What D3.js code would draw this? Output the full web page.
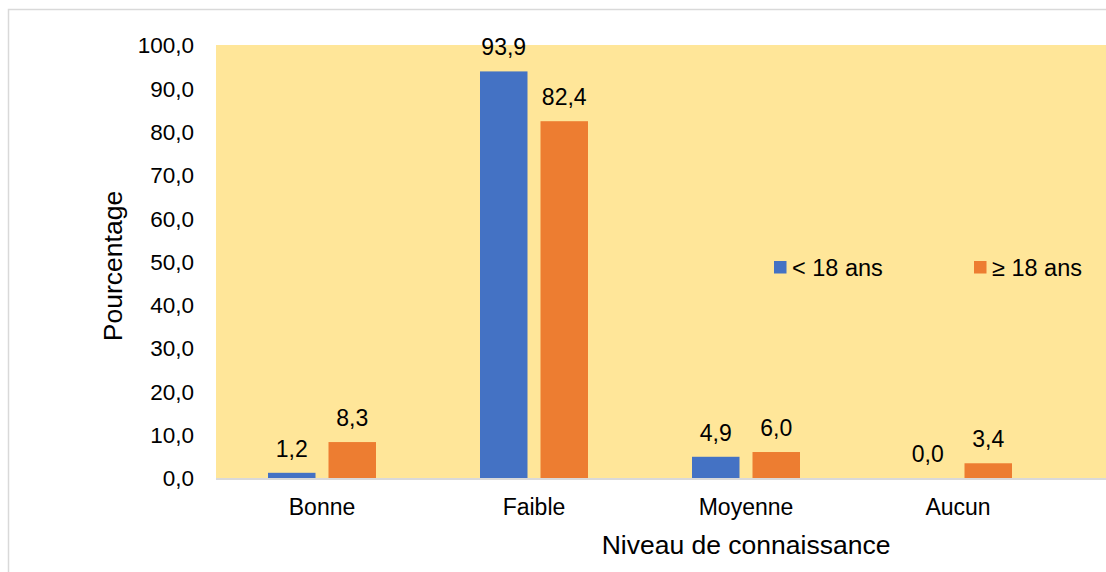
<!DOCTYPE html>
<html>
<head>
<meta charset="utf-8">
<script src="https://cdn.jsdelivr.net/npm/d3@7"></script>
<style>
  html, body { margin: 0; padding: 0; background: #ffffff; }
  svg { display: block; }
  text { font-family: "Liberation Sans", Arial, sans-serif; fill: #000; }
</style>
</head>
<body>
<svg id="chart" width="1106" height="572"></svg>
<script>
// Knowledge level by age group (percent)
const categories = ["Bonne", "Faible", "Moyenne", "Aucun"];
const seriesNames = ["< 18 ans", "≥ 18 ans"];
const under18 = [1.2, 93.9, 4.9, 0.0];
const over18 = [8.3, 82.4, 6.0, 3.4];
const yTicks = [0, 10, 20, 30, 40, 50, 60, 70, 80, 90, 100];
const colors = ["#4472C4", "#ED7D31"];

const svg = d3.select("#chart");
const W = 1106, H = 572;

const plot = { left: 216, right: 1064, top: 45, bottom: 478 };

const fr = d3.formatLocale({ decimal: ",", thousands: " ", grouping: [3], currency: ["", " €"] });
const fmt = fr.format(".1f");

const x0 = d3.scaleBand().domain(categories).range([plot.left, plot.right]).padding(0);
const groupW = 108;
const x1 = d3.scaleBand().domain(seriesNames)
  .range([(x0.bandwidth() - groupW) / 2, (x0.bandwidth() + groupW) / 2])
  .paddingInner(0.215).paddingOuter(0);
const y = d3.scaleLinear().domain([0, 100]).range([plot.bottom, plot.top]);

// outer frame
svg.append("rect")
  .attr("x", 8.5).attr("y", 9.5)
  .attr("width", W + 20).attr("height", H + 20)
  .attr("fill", "none").attr("stroke", "#d9d9d9").attr("stroke-width", 1.5);

// plot background
svg.append("rect")
  .attr("x", plot.left).attr("y", y(100))
  .attr("width", W - plot.left + 10).attr("height", y(0) - y(100))
  .attr("fill", "#FFE699");

// y axis labels
const yAxis = d3.axisLeft(y).tickValues(yTicks).tickFormat(fmt).tickSize(0).tickPadding(0);
const gy = svg.append("g").attr("transform", `translate(194,0)`).call(yAxis);
gy.select(".domain").remove();
gy.selectAll("text")
  .style("font-family", "'Liberation Sans', Arial, sans-serif")
  .style("font-size", "22.5px").attr("fill", "#000").attr("dy", "0.35em");

// bars
const rows = categories.map((c, i) => ({ cat: c, vals: [under18[i], over18[i]] }));
const groups = svg.append("g").selectAll("g").data(rows).join("g")
  .attr("transform", d => `translate(${x0(d.cat)},0)`);

groups.selectAll("rect").data(d => d.vals.map((v, j) => ({ s: seriesNames[j], v, j })))
  .join("rect")
  .attr("x", d => x1(d.s))
  .attr("y", d => y(d.v))
  .attr("width", x1.bandwidth())
  .attr("height", d => y(0) - y(d.v))
  .attr("fill", d => colors[d.j]);

groups.selectAll("text").data(d => d.vals.map((v, j) => ({ s: seriesNames[j], v, j })))
  .join("text")
  .attr("x", d => x1(d.s) + x1.bandwidth() / 2)
  .attr("y", d => y(d.v) - 16)
  .attr("text-anchor", "middle")
  .style("font-size", "23px")
  .text(d => fmt(d.v));

// x axis line
svg.append("line")
  .attr("x1", plot.left).attr("x2", W)
  .attr("y1", y(0) + 1).attr("y2", y(0) + 1)
  .attr("stroke", "#d9d9d9").attr("stroke-width", 2);

// category labels
const xAxis = d3.axisBottom(x0).tickSize(0).tickPadding(0);
const gx = svg.append("g").attr("transform", `translate(0,${plot.bottom})`).call(xAxis);
gx.select(".domain").remove();
gx.selectAll("text")
  .style("font-family", "'Liberation Sans', Arial, sans-serif")
  .style("font-size", "23px").attr("fill", "#000")
  .attr("dy", null).attr("y", 37);

// axis titles
svg.append("text")
  .attr("x", 746).attr("y", 554)
  .attr("text-anchor", "middle")
  .style("font-size", "26.5px")
  .text("Niveau de connaissance");

svg.append("text")
  .attr("transform", "translate(122,266) rotate(-90)")
  .attr("text-anchor", "middle")
  .style("font-size", "26.5px")
  .text("Pourcentage");

// legend
const legendPos = [774, 974];
const lg = svg.append("g").selectAll("g").data(seriesNames).join("g")
  .attr("transform", (d, i) => `translate(${legendPos[i]},261)`);
lg.append("rect").attr("width", 12.5).attr("height", 12.5).attr("fill", (d, i) => colors[i]);
lg.append("text").attr("x", 18).attr("y", 15).style("font-size", "23.5px").text(d => d);
</script>
</body>
</html>
